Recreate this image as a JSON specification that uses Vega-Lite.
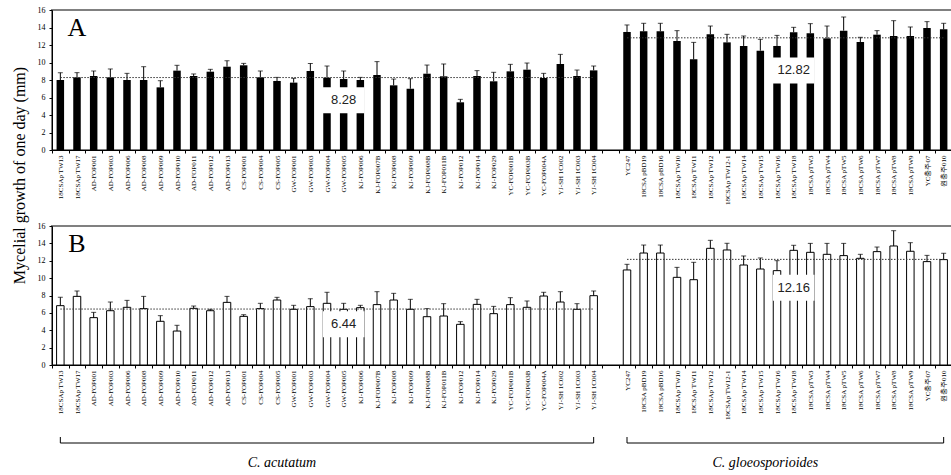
{
  "$schema": "https://vega.github.io/schema/vega-lite/v6.json",
  "background": "white",
  "padding": {"left": 10, "top": 5, "right": 2, "bottom": 0},
  "config": {
    "view": {"stroke": null},
    "axis": {"domainColor": "black", "tickColor": "black", "labelColor": "black", "tickSize": 3, "domainWidth": 1},
    "axisY": {"labelOverlap": false, "labelFont": "Liberation Serif", "labelFontSize": 8, "labelPadding": 4, "grid": false, "values": [0,2,4,6,8,10,12,14,16]}
  },
  "datasets": {
    "growth": [
      {"panel":"A","isolate":"18CSAp TW13","growth":8.0,"upper":8.84},
      {"panel":"A","isolate":"18CSAp TW17","growth":8.3,"upper":8.84},
      {"panel":"A","isolate":"AD-FOP001","growth":8.46,"upper":9.03},
      {"panel":"A","isolate":"AD-FOP003","growth":8.3,"upper":9.26},
      {"panel":"A","isolate":"AD-FOP006","growth":8.0,"upper":8.76},
      {"panel":"A","isolate":"AD-FOP008","growth":8.0,"upper":9.52},
      {"panel":"A","isolate":"AD-FOP009","growth":7.16,"upper":7.92},
      {"panel":"A","isolate":"AD-FOP010","growth":9.07,"upper":9.68},
      {"panel":"A","isolate":"AD-FOP011","growth":8.46,"upper":8.69},
      {"panel":"A","isolate":"AD-FOP012","growth":8.95,"upper":9.22},
      {"panel":"A","isolate":"AD-FOP013","growth":9.52,"upper":10.2},
      {"panel":"A","isolate":"CS-FOP001","growth":9.68,"upper":9.9},
      {"panel":"A","isolate":"CS-FOP004","growth":8.3,"upper":9.03},
      {"panel":"A","isolate":"CS-FOP005","growth":7.89,"upper":8.3},
      {"panel":"A","isolate":"GW-FOP001","growth":7.7,"upper":8.19},
      {"panel":"A","isolate":"GW-FOP003","growth":9.03,"upper":9.9},
      {"panel":"A","isolate":"GW-FOP004","growth":8.27,"upper":9.6},
      {"panel":"A","isolate":"GW-FOP005","growth":8.11,"upper":9.03},
      {"panel":"A","isolate":"KJ-FOP006","growth":8.0,"upper":8.3},
      {"panel":"A","isolate":"KJ-FOP007B","growth":8.57,"upper":10.1},
      {"panel":"A","isolate":"KJ-FOP008","growth":7.39,"upper":8.11},
      {"panel":"A","isolate":"KJ-FOP009","growth":7.0,"upper":8.15},
      {"panel":"A","isolate":"KJ-FOP008B","growth":8.72,"upper":9.71},
      {"panel":"A","isolate":"KJ-FOP011B","growth":8.42,"upper":9.83},
      {"panel":"A","isolate":"KJ-FOP012","growth":5.45,"upper":5.79},
      {"panel":"A","isolate":"KJ-FOP014","growth":8.46,"upper":9.07},
      {"panel":"A","isolate":"KJ-FOP029","growth":7.85,"upper":8.88},
      {"panel":"A","isolate":"YC-FOP001B","growth":8.99,"upper":9.79},
      {"panel":"A","isolate":"YC-FOP003B","growth":9.18,"upper":9.94},
      {"panel":"A","isolate":"YC-FOP004A","growth":8.23,"upper":8.76},
      {"panel":"A","isolate":"YJ-SH 1C002","growth":9.83,"upper":10.93},
      {"panel":"A","isolate":"YJ-SH 1C003","growth":8.46,"upper":9.14},
      {"panel":"A","isolate":"YJ-SH 1C004","growth":9.1,"upper":9.6},
      {"panel":"A","isolate":"YC247","growth":13.49,"upper":14.29},
      {"panel":"A","isolate":"18CSA pBD19","growth":13.56,"upper":14.48},
      {"panel":"A","isolate":"18CSA pBD16","growth":13.56,"upper":14.48},
      {"panel":"A","isolate":"18CSAp TW10","growth":12.46,"upper":13.64},
      {"panel":"A","isolate":"18CSAp TW11","growth":10.36,"upper":12.3},
      {"panel":"A","isolate":"18CSAp TW12","growth":13.22,"upper":14.17},
      {"panel":"A","isolate":"18CSAp TW12-1","growth":12.3,"upper":13.22},
      {"panel":"A","isolate":"18CSAp TW14","growth":11.89,"upper":13.03},
      {"panel":"A","isolate":"18CSAp TW15","growth":11.35,"upper":12.65},
      {"panel":"A","isolate":"18CSAp TW16","growth":11.89,"upper":13.1},
      {"panel":"A","isolate":"18CSAp TW18","growth":13.45,"upper":14.02},
      {"panel":"A","isolate":"18CSA pTW3","growth":13.33,"upper":14.44},
      {"panel":"A","isolate":"18CSA pTW4","growth":12.76,"upper":14.17},
      {"panel":"A","isolate":"18CSA pTW5","growth":13.64,"upper":15.2},
      {"panel":"A","isolate":"18CSA pTW6","growth":12.34,"upper":12.88},
      {"panel":"A","isolate":"18CSA pTW7","growth":13.18,"upper":13.64},
      {"panel":"A","isolate":"18CSA pTW8","growth":13.03,"upper":14.78},
      {"panel":"A","isolate":"18CSA pTW9","growth":13.03,"upper":14.06},
      {"panel":"A","isolate":"YC충주07","growth":13.94,"upper":14.67},
      {"panel":"A","isolate":"원충주010","growth":13.79,"upper":14.48},
      {"panel":"B","isolate":"18CSAp TW13","growth":6.83,"upper":7.79},
      {"panel":"B","isolate":"18CSAp TW17","growth":7.9,"upper":8.52},
      {"panel":"B","isolate":"AD-FOP001","growth":5.45,"upper":6.06},
      {"panel":"B","isolate":"AD-FOP003","growth":6.25,"upper":7.25},
      {"panel":"B","isolate":"AD-FOP006","growth":6.64,"upper":7.44},
      {"panel":"B","isolate":"AD-FOP008","growth":6.49,"upper":7.9},
      {"panel":"B","isolate":"AD-FOP009","growth":5.03,"upper":5.68},
      {"panel":"B","isolate":"AD-FOP010","growth":3.91,"upper":4.57},
      {"panel":"B","isolate":"AD-FOP011","growth":6.52,"upper":6.79},
      {"panel":"B","isolate":"AD-FOP012","growth":6.25,"upper":6.41},
      {"panel":"B","isolate":"AD-FOP013","growth":7.21,"upper":7.9},
      {"panel":"B","isolate":"CS-FOP001","growth":5.6,"upper":5.79},
      {"panel":"B","isolate":"CS-FOP004","growth":6.49,"upper":7.1},
      {"panel":"B","isolate":"CS-FOP005","growth":7.48,"upper":7.79},
      {"panel":"B","isolate":"GW-FOP001","growth":6.41,"upper":6.87},
      {"panel":"B","isolate":"GW-FOP003","growth":6.72,"upper":7.64},
      {"panel":"B","isolate":"GW-FOP004","growth":7.1,"upper":8.37},
      {"panel":"B","isolate":"GW-FOP005","growth":6.41,"upper":7.1},
      {"panel":"B","isolate":"KJ-FOP006","growth":6.6,"upper":6.87},
      {"panel":"B","isolate":"KJ-FOP007B","growth":6.95,"upper":8.44},
      {"panel":"B","isolate":"KJ-FOP008","growth":7.48,"upper":8.25},
      {"panel":"B","isolate":"KJ-FOP009","growth":6.41,"upper":7.56},
      {"panel":"B","isolate":"KJ-FOP008B","growth":5.56,"upper":6.49},
      {"panel":"B","isolate":"KJ-FOP011B","growth":5.64,"upper":7.06},
      {"panel":"B","isolate":"KJ-FOP012","growth":4.68,"upper":4.99},
      {"panel":"B","isolate":"KJ-FOP014","growth":6.98,"upper":7.56},
      {"panel":"B","isolate":"KJ-FOP029","growth":5.91,"upper":6.75},
      {"panel":"B","isolate":"YC-FOP001B","growth":6.95,"upper":7.75},
      {"panel":"B","isolate":"YC-FOP003B","growth":6.64,"upper":7.37},
      {"panel":"B","isolate":"YC-FOP004A","growth":7.94,"upper":8.37},
      {"panel":"B","isolate":"YJ-SH 1C002","growth":7.25,"upper":8.44},
      {"panel":"B","isolate":"YJ-SH 1C003","growth":6.41,"upper":7.06},
      {"panel":"B","isolate":"YJ-SH 1C004","growth":7.98,"upper":8.52},
      {"panel":"B","isolate":"YC247","growth":10.94,"upper":11.59},
      {"panel":"B","isolate":"18CSA pBD19","growth":12.89,"upper":13.81},
      {"panel":"B","isolate":"18CSA pBD16","growth":12.89,"upper":13.81},
      {"panel":"B","isolate":"18CSAp TW10","growth":10.09,"upper":11.24},
      {"panel":"B","isolate":"18CSAp TW11","growth":9.82,"upper":11.82},
      {"panel":"B","isolate":"18CSAp TW12","growth":13.43,"upper":14.35},
      {"panel":"B","isolate":"18CSAp TW12-1","growth":13.24,"upper":14.01},
      {"panel":"B","isolate":"18CSAp TW14","growth":11.51,"upper":12.55},
      {"panel":"B","isolate":"18CSAp TW15","growth":11.05,"upper":12.32},
      {"panel":"B","isolate":"18CSAp TW16","growth":10.86,"upper":12.01},
      {"panel":"B","isolate":"18CSAp TW18","growth":13.2,"upper":13.78},
      {"panel":"B","isolate":"18CSA pTW3","growth":12.97,"upper":14.0},
      {"panel":"B","isolate":"18CSA pTW4","growth":12.74,"upper":14.0},
      {"panel":"B","isolate":"18CSA pTW5","growth":12.59,"upper":14.0},
      {"panel":"B","isolate":"18CSA pTW6","growth":12.28,"upper":12.74},
      {"panel":"B","isolate":"18CSA pTW7","growth":13.05,"upper":13.58},
      {"panel":"B","isolate":"18CSA pTW8","growth":13.7,"upper":15.46},
      {"panel":"B","isolate":"18CSA pTW9","growth":13.09,"upper":14.08},
      {"panel":"B","isolate":"YC충주07","growth":11.9,"upper":12.62},
      {"panel":"B","isolate":"원충주010","growth":12.13,"upper":12.86}
    ],
    "means": [
      {"panel":"A","species":"C. acutatum","isolate":"18CSAp TW13","mean":8.28},
      {"panel":"A","species":"C. acutatum","isolate":"YJ-SH 1C004","mean":8.28},
      {"panel":"A","species":"C. gloeosporioides","isolate":"YC247","mean":12.82},
      {"panel":"A","species":"C. gloeosporioides","isolate":"원충주010","mean":12.82},
      {"panel":"B","species":"C. acutatum","isolate":"18CSAp TW13","mean":6.44},
      {"panel":"B","species":"C. acutatum","isolate":"YJ-SH 1C004","mean":6.44},
      {"panel":"B","species":"C. gloeosporioides","isolate":"YC247","mean":12.16},
      {"panel":"B","species":"C. gloeosporioides","isolate":"원충주010","mean":12.16}
    ],
    "notes": [
      {"panel":"A","isolate":"GW-FOP005","pos":5.7,"label":"8.28"},
      {"panel":"A","isolate":"18CSAp TW18","pos":9.1,"label":"12.82"},
      {"panel":"B","isolate":"GW-FOP005","pos":4.7,"label":"6.44"},
      {"panel":"B","isolate":"18CSAp TW18","pos":8.9,"label":"12.16"}
    ],
    "letters": [
      {"panel":"A","isolate":"18CSAp TW17","pos":13.9,"letter":"A"},
      {"panel":"B","isolate":"18CSAp TW17","pos":13.9,"letter":"B"}
    ],
    "brackets": [
      {"species":"C. acutatum","isolate":"18CSAp TW13","end":"YJ-SH 1C004","textAt":"CS-FOP005"},
      {"species":"C. gloeosporioides","isolate":"YC247","end":"원충주010","textAt":"18CSAp TW15"}
    ],
    "bracketEnds": [
      {"isolate":"18CSAp TW13"},
      {"isolate":"YJ-SH 1C004"},
      {"isolate":"YC247"},
      {"isolate":"원충주010"}
    ]
  },
  "bounds": "flush",
  "spacing": 76,
  "vconcat": [
    {
      "width": 900,
      "height": 140,
      "view": {"stroke": "#808080", "strokeWidth": 2},
      "encoding": {
        "x": {
          "field": "isolate", "type": "nominal",
          "scale": {"domain": ["18CSAp TW13","18CSAp TW17","AD-FOP001","AD-FOP003","AD-FOP006","AD-FOP008","AD-FOP009","AD-FOP010","AD-FOP011","AD-FOP012","AD-FOP013","CS-FOP001","CS-FOP004","CS-FOP005","GW-FOP001","GW-FOP003","GW-FOP004","GW-FOP005","KJ-FOP006","KJ-FOP007B","KJ-FOP008","KJ-FOP009","KJ-FOP008B","KJ-FOP011B","KJ-FOP012","KJ-FOP014","KJ-FOP029","YC-FOP001B","YC-FOP003B","YC-FOP004A","YJ-SH 1C002","YJ-SH 1C003","YJ-SH 1C004"," ","YC247","18CSA pBD19","18CSA pBD16","18CSAp TW10","18CSAp TW11","18CSAp TW12","18CSAp TW12-1","18CSAp TW14","18CSAp TW15","18CSAp TW16","18CSAp TW18","18CSA pTW3","18CSA pTW4","18CSA pTW5","18CSA pTW6","18CSA pTW7","18CSA pTW8","18CSA pTW9","YC충주07","원충주010"], "paddingInner": 0, "paddingOuter": 0},
          "axis": {"title": null, "labelAngle": -90, "labelFont": "Liberation Serif", "labelFontSize": 7, "labelPadding": 2, "tickBand": "extent", "labelOverlap": false}
        }
      },
      "layer": [
        {
          "data": {"name": "growth"},
          "transform": [{"filter": "datum.panel === 'A'"}],
          "mark": {"type": "bar", "fill": "black", "width": {"band": 0.45}},
          "encoding": {
            "y": {"field": "growth", "type": "quantitative", "scale": {"domain": [0, 16]}, "title": "Mycelial growth of one day (mm)",
              "axis": {"values": [0,2,4,6,8,10,12,14,16], "labelOverlap": false,
                "titleFont": "Liberation Serif", "titleFontSize": 16, "titleFontWeight": "normal", "titleColor": "black", "titleX": -25, "titleY": 165}}
          }
        },
        {
          "data": {"name": "growth"},
          "transform": [{"filter": "datum.panel === 'A'"}],
          "mark": {"type": "rule", "color": "black", "strokeWidth": 1},
          "encoding": {"y": {"field": "growth", "type": "quantitative", "title": "Mycelial growth of one day (mm)", "axis": {"values": [0,2,4,6,8,10,12,14,16], "labelOverlap": false}}, "y2": {"field": "upper"}}
        },
        {
          "data": {"name": "growth"},
          "transform": [{"filter": "datum.panel === 'A'"}],
          "mark": {"type": "tick", "color": "black", "thickness": 1, "size": 5},
          "encoding": {"y": {"field": "upper", "type": "quantitative", "title": "Mycelial growth of one day (mm)", "axis": {"values": [0,2,4,6,8,10,12,14,16], "labelOverlap": false}}}
        },
        {
          "data": {"name": "means"},
          "transform": [{"filter": "datum.panel === 'A'"}],
          "mark": {"type": "line", "color": "#333333", "strokeWidth": 1, "strokeDash": [1.5, 1.5]},
          "encoding": {"y": {"field": "mean", "type": "quantitative", "title": "Mycelial growth of one day (mm)", "axis": {"values": [0,2,4,6,8,10,12,14,16], "labelOverlap": false}}, "detail": {"field": "species"}}
        },
        {
          "data": {"name": "notes"},
          "transform": [{"filter": "datum.panel === 'A'"}],
          "mark": {"type": "point", "shape": "M-1.6,-1L1.6,-1L1.6,1L-1.6,1Z", "filled": true, "fill": "white", "opacity": 1, "size": 676, "strokeWidth": 0},
          "encoding": {"y": {"field": "pos", "type": "quantitative", "title": "Mycelial growth of one day (mm)", "axis": {"values": [0,2,4,6,8,10,12,14,16], "labelOverlap": false}}}
        },
        {
          "data": {"name": "notes"},
          "transform": [{"filter": "datum.panel === 'A'"}],
          "mark": {"type": "text", "font": "Liberation Sans", "fontSize": 13, "color": "#222222"},
          "encoding": {"y": {"field": "pos", "type": "quantitative", "title": "Mycelial growth of one day (mm)", "axis": {"values": [0,2,4,6,8,10,12,14,16], "labelOverlap": false}}, "text": {"field": "label"}}
        },
        {
          "data": {"name": "letters"},
          "transform": [{"filter": "datum.panel === 'A'"}],
          "mark": {"type": "text", "font": "Liberation Serif", "fontSize": 26, "color": "black"},
          "encoding": {"y": {"field": "pos", "type": "quantitative", "title": "Mycelial growth of one day (mm)", "axis": {"values": [0,2,4,6,8,10,12,14,16], "labelOverlap": false}}, "text": {"field": "letter"}}
        }
      ]
    },
    {
      "bounds": "flush",
      "spacing": 60,
      "vconcat": [
        {
          "width": 900,
          "height": 139,
          "view": {"stroke": "#808080", "strokeWidth": 2},
          "encoding": {
            "x": {
              "field": "isolate", "type": "nominal",
              "scale": {"domain": ["18CSAp TW13","18CSAp TW17","AD-FOP001","AD-FOP003","AD-FOP006","AD-FOP008","AD-FOP009","AD-FOP010","AD-FOP011","AD-FOP012","AD-FOP013","CS-FOP001","CS-FOP004","CS-FOP005","GW-FOP001","GW-FOP003","GW-FOP004","GW-FOP005","KJ-FOP006","KJ-FOP007B","KJ-FOP008","KJ-FOP009","KJ-FOP008B","KJ-FOP011B","KJ-FOP012","KJ-FOP014","KJ-FOP029","YC-FOP001B","YC-FOP003B","YC-FOP004A","YJ-SH 1C002","YJ-SH 1C003","YJ-SH 1C004"," ","YC247","18CSA pBD19","18CSA pBD16","18CSAp TW10","18CSAp TW11","18CSAp TW12","18CSAp TW12-1","18CSAp TW14","18CSAp TW15","18CSAp TW16","18CSAp TW18","18CSA pTW3","18CSA pTW4","18CSA pTW5","18CSA pTW6","18CSA pTW7","18CSA pTW8","18CSA pTW9","YC충주07","원충주010"], "paddingInner": 0, "paddingOuter": 0},
              "axis": {"title": null, "labelAngle": -90, "labelFont": "Liberation Serif", "labelFontSize": 7, "labelPadding": 2, "tickBand": "extent", "labelOverlap": false}
            }
          },
          "layer": [
            {
              "data": {"name": "growth"},
              "transform": [{"filter": "datum.panel === 'B'"}],
              "mark": {"type": "bar", "fill": "white", "stroke": "black", "strokeWidth": 1, "width": {"band": 0.45}},
              "encoding": {
                "y": {"field": "growth", "type": "quantitative", "scale": {"domain": [0, 16]}, "title": null,
                  "axis": {"values": [0,2,4,6,8,10,12,14,16], "labelOverlap": false}}
              }
            },
            {
              "data": {"name": "growth"},
              "transform": [{"filter": "datum.panel === 'B'"}],
              "mark": {"type": "rule", "color": "black", "strokeWidth": 1},
              "encoding": {"y": {"field": "growth", "type": "quantitative", "title": null, "axis": {"values": [0,2,4,6,8,10,12,14,16], "labelOverlap": false}}, "y2": {"field": "upper"}}
            },
            {
              "data": {"name": "growth"},
              "transform": [{"filter": "datum.panel === 'B'"}],
              "mark": {"type": "tick", "color": "black", "thickness": 1, "size": 5},
              "encoding": {"y": {"field": "upper", "type": "quantitative", "title": null, "axis": {"values": [0,2,4,6,8,10,12,14,16], "labelOverlap": false}}}
            },
            {
              "data": {"name": "means"},
              "transform": [{"filter": "datum.panel === 'B'"}],
              "mark": {"type": "line", "color": "#333333", "strokeWidth": 1, "strokeDash": [1.5, 1.5]},
              "encoding": {"y": {"field": "mean", "type": "quantitative", "title": null, "axis": {"values": [0,2,4,6,8,10,12,14,16], "labelOverlap": false}}, "detail": {"field": "species"}}
            },
            {
              "data": {"name": "notes"},
              "transform": [{"filter": "datum.panel === 'B'"}],
              "mark": {"type": "point", "shape": "M-1.6,-1L1.6,-1L1.6,1L-1.6,1Z", "filled": true, "fill": "white", "opacity": 1, "size": 676, "strokeWidth": 0},
              "encoding": {"y": {"field": "pos", "type": "quantitative", "title": null, "axis": {"values": [0,2,4,6,8,10,12,14,16], "labelOverlap": false}}}
            },
            {
              "data": {"name": "notes"},
              "transform": [{"filter": "datum.panel === 'B'"}],
              "mark": {"type": "text", "font": "Liberation Sans", "fontSize": 13, "color": "#222222"},
              "encoding": {"y": {"field": "pos", "type": "quantitative", "title": null, "axis": {"values": [0,2,4,6,8,10,12,14,16], "labelOverlap": false}}, "text": {"field": "label"}}
            },
            {
              "data": {"name": "letters"},
              "transform": [{"filter": "datum.panel === 'B'"}],
              "mark": {"type": "text", "font": "Liberation Serif", "fontSize": 26, "color": "black"},
              "encoding": {"y": {"field": "pos", "type": "quantitative", "title": null, "axis": {"values": [0,2,4,6,8,10,12,14,16], "labelOverlap": false}}, "text": {"field": "letter"}}
            }
          ]
        },
        {
          "width": 900,
          "height": 50,
          "view": {"stroke": null},
          "encoding": {
            "x": {
              "field": "isolate", "type": "nominal",
              "scale": {"domain": ["18CSAp TW13","18CSAp TW17","AD-FOP001","AD-FOP003","AD-FOP006","AD-FOP008","AD-FOP009","AD-FOP010","AD-FOP011","AD-FOP012","AD-FOP013","CS-FOP001","CS-FOP004","CS-FOP005","GW-FOP001","GW-FOP003","GW-FOP004","GW-FOP005","KJ-FOP006","KJ-FOP007B","KJ-FOP008","KJ-FOP009","KJ-FOP008B","KJ-FOP011B","KJ-FOP012","KJ-FOP014","KJ-FOP029","YC-FOP001B","YC-FOP003B","YC-FOP004A","YJ-SH 1C002","YJ-SH 1C003","YJ-SH 1C004"," ","YC247","18CSA pBD19","18CSA pBD16","18CSAp TW10","18CSAp TW11","18CSAp TW12","18CSAp TW12-1","18CSAp TW14","18CSAp TW15","18CSAp TW16","18CSAp TW18","18CSA pTW3","18CSA pTW4","18CSA pTW5","18CSA pTW6","18CSA pTW7","18CSA pTW8","18CSA pTW9","YC충주07","원충주010"], "paddingInner": 0, "paddingOuter": 0},
              "axis": null
            }
          },
          "layer": [
            {
              "data": {"name": "brackets"},
              "mark": {"type": "rule", "color": "black", "strokeWidth": 1},
              "encoding": {"x2": {"field": "end"}, "y": {"datum": 18, "type": "quantitative", "scale": {"domain": [50, 0]}, "axis": null}}
            },
            {
              "data": {"name": "bracketEnds"},
              "mark": {"type": "rule", "color": "black", "strokeWidth": 1},
              "encoding": {"y": {"datum": 12, "type": "quantitative", "axis": null}, "y2": {"datum": 18}}
            },
            {
              "data": {"name": "brackets"},
              "mark": {"type": "text", "font": "Liberation Serif", "fontSize": 14, "fontStyle": "italic", "color": "black", "dx": 5},
              "encoding": {"x": {"field": "textAt", "type": "nominal"}, "y": {"datum": 38, "type": "quantitative", "axis": null}, "text": {"field": "species"}}
            }
          ]
        }
      ]
    }
  ]
}
